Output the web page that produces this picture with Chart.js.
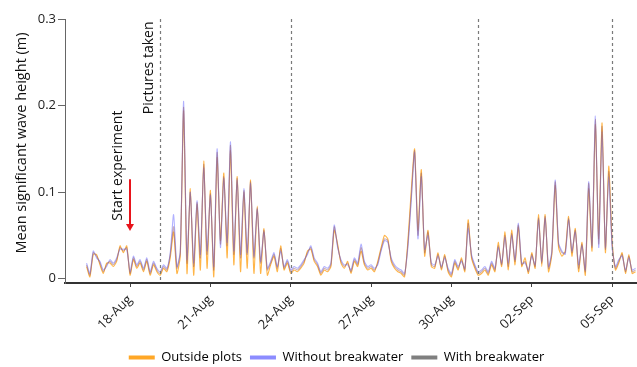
<!DOCTYPE html>
<html>
<head>
<meta charset="utf-8">
<title>Wave height</title>
<script src="https://cdn.jsdelivr.net/npm/chart.js"></script>
<style>
html, body { margin:0; padding:0; background:#fff; overflow:hidden; }
#wrap { width:637px; height:367px; position:relative; }
</style>
</head>
<body>
<div id="wrap"><canvas id="chart"></canvas></div>
<script>
// samples every 3 h, first one 16-Aug 09:00 (day numbers count Aug days, 01-Sep = 32)
var startDay = 16.375, stepDays = 0.125;

var outsidePlots = [
0.014,0.002,0.028,0.028,0.016,0.006,0.018,0.018,0.014,0.020,
0.038,0.030,0.038,0.004,0.022,0.012,0.018,0.008,0.020,0.004,
0.016,0.008,0.004,0.012,0.008,0.024,0.054,0.006,0.026,0.194,
0.006,0.104,0.004,0.086,0.010,0.136,0.012,0.102,0.002,0.140,
0.044,0.122,0.024,0.148,0.016,0.118,0.008,0.100,0.012,0.114,
0.006,0.084,0.006,0.058,0.004,0.016,0.026,0.008,0.038,0.010,
0.018,0.006,0.010,0.008,0.012,0.018,0.032,0.034,0.020,0.014,
0.004,0.010,0.008,0.014,0.056,0.040,0.018,0.012,0.020,0.006,
0.020,0.014,0.032,0.016,0.010,0.012,0.008,0.020,0.036,0.050,
0.046,0.020,0.012,0.008,0.006,0.002,0.044,0.102,0.150,0.056,
0.126,0.026,0.056,0.014,0.012,0.030,0.010,0.028,0.008,0.002,
0.018,0.010,0.024,0.008,0.068,0.024,0.012,0.004,0.006,0.010,
0.004,0.016,0.008,0.042,0.014,0.054,0.010,0.056,0.016,0.060,
0.014,0.024,0.006,0.030,0.012,0.074,0.014,0.074,0.008,0.028,
0.108,0.036,0.026,0.032,0.072,0.026,0.058,0.008,0.042,0.004,
0.104,0.032,0.178,0.046,0.180,0.030,0.130,0.044,0.010,0.018,
0.030,0.006,0.028,0.006,0.008];

var withoutBreakwater = [
0.018,0.006,0.032,0.024,0.020,0.010,0.014,0.022,0.018,0.024,
0.034,0.034,0.034,0.008,0.026,0.016,0.022,0.012,0.024,0.008,
0.020,0.012,0.008,0.016,0.012,0.030,0.074,0.014,0.032,0.205,
0.022,0.100,0.018,0.090,0.028,0.128,0.032,0.096,0.014,0.150,
0.036,0.116,0.042,0.158,0.032,0.114,0.028,0.104,0.030,0.110,
0.026,0.080,0.020,0.054,0.012,0.020,0.030,0.014,0.032,0.014,
0.022,0.010,0.014,0.012,0.016,0.022,0.028,0.038,0.024,0.018,
0.008,0.014,0.012,0.018,0.062,0.036,0.022,0.016,0.016,0.010,
0.024,0.018,0.040,0.020,0.014,0.016,0.012,0.016,0.032,0.044,
0.042,0.024,0.016,0.012,0.010,0.006,0.036,0.090,0.146,0.046,
0.118,0.034,0.050,0.018,0.016,0.026,0.014,0.024,0.012,0.006,
0.022,0.014,0.020,0.012,0.058,0.028,0.016,0.008,0.010,0.014,
0.008,0.020,0.012,0.036,0.018,0.048,0.018,0.050,0.022,0.064,
0.018,0.018,0.010,0.026,0.016,0.068,0.020,0.070,0.014,0.032,
0.114,0.042,0.032,0.028,0.068,0.032,0.054,0.016,0.038,0.010,
0.112,0.038,0.188,0.036,0.170,0.036,0.118,0.036,0.014,0.022,
0.026,0.010,0.024,0.010,0.012];

var withBreakwater = [
0.016,0.004,0.030,0.026,0.018,0.008,0.016,0.020,0.016,0.022,
0.036,0.032,0.036,0.006,0.024,0.014,0.020,0.010,0.022,0.006,
0.018,0.010,0.006,0.014,0.010,0.028,0.060,0.012,0.030,0.198,
0.018,0.100,0.014,0.088,0.024,0.132,0.028,0.098,0.010,0.146,
0.040,0.118,0.038,0.154,0.028,0.116,0.024,0.102,0.028,0.112,
0.024,0.082,0.018,0.056,0.010,0.018,0.028,0.012,0.035,0.012,
0.020,0.008,0.012,0.010,0.014,0.020,0.030,0.036,0.022,0.016,
0.006,0.012,0.010,0.016,0.060,0.038,0.020,0.014,0.018,0.008,
0.022,0.016,0.036,0.018,0.012,0.014,0.010,0.018,0.034,0.046,
0.044,0.022,0.014,0.010,0.008,0.004,0.040,0.094,0.148,0.050,
0.122,0.030,0.054,0.016,0.014,0.028,0.012,0.026,0.010,0.004,
0.020,0.012,0.022,0.010,0.064,0.026,0.014,0.006,0.008,0.012,
0.006,0.018,0.010,0.038,0.016,0.050,0.014,0.052,0.020,0.062,
0.016,0.020,0.008,0.028,0.014,0.070,0.018,0.072,0.012,0.030,
0.112,0.040,0.030,0.030,0.070,0.030,0.056,0.012,0.040,0.008,
0.110,0.036,0.184,0.040,0.176,0.034,0.124,0.040,0.012,0.020,
0.028,0.008,0.026,0.008,0.010];

var tickDays = [18, 21, 24, 27, 30, 33, 36];
var tickLabels = ['18-Aug', '21-Aug', '24-Aug', '27-Aug', '30-Aug', '02-Sep', '05-Sep'];
var yTicks = [0, 0.1, 0.2, 0.3];

// dashed "pictures taken" lines and the start arrow
var pictureDays = [19.12, 24, 31, 36];
var startExpDay = 18;
var arrowTop = 0.115, arrowTip = 0.055;

function toPoints(vals) {
    return vals.map(function(v, i) { return { x: startDay + i * stepDays, y: v }; });
}

var legendColors = ['#ffa726', '#8c8cff', '#7f7f7f'];
var FONT = "'Open Sans', sans-serif";
Chart.defaults.font.family = FONT;
Chart.defaults.color = '#222';

var overlay = {
    id: 'overlay',
    afterDatasetsDraw: function(chart) {
        var ctx = chart.ctx, xs = chart.scales.x, ys = chart.scales.y, a = chart.chartArea;
        ctx.save();
        ctx.strokeStyle = '#7a7a7a'; ctx.lineWidth = 1.2; ctx.setLineDash([3, 3]);
        pictureDays.forEach(function(d) {
            var x = Math.round(xs.getPixelForValue(d)) + 0.5;
            ctx.beginPath(); ctx.moveTo(x, a.top); ctx.lineTo(x, a.bottom); ctx.stroke();
        });
        ctx.setLineDash([]);

        var ax = Math.round(xs.getPixelForValue(startExpDay)), y1 = ys.getPixelForValue(arrowTop), y2 = ys.getPixelForValue(arrowTip);
        ctx.strokeStyle = '#e8141b'; ctx.fillStyle = '#e8141b'; ctx.lineWidth = 2;
        ctx.beginPath(); ctx.moveTo(ax, y1); ctx.lineTo(ax, y2 - 5); ctx.stroke();
        ctx.beginPath(); ctx.moveTo(ax - 4, y2 - 7); ctx.lineTo(ax + 4, y2 - 7); ctx.lineTo(ax, y2); ctx.closePath(); ctx.fill();

        ctx.fillStyle = '#111'; ctx.font = '14px ' + FONT; ctx.textAlign = 'left'; ctx.textBaseline = 'alphabetic';
        ctx.save();
        ctx.translate(xs.getPixelForValue(pictureDays[0]) - 7, ys.getPixelForValue(0.19));
        ctx.rotate(-Math.PI / 2); ctx.fillText('Pictures taken', 0, 0);
        ctx.restore();
        ctx.save();
        ctx.translate(xs.getPixelForValue(startExpDay) - 8, ys.getPixelForValue(0.067));
        ctx.rotate(-Math.PI / 2); ctx.fillText('Start experiment', 0, 0);
        ctx.restore();

        // y axis title, sits a bit above the middle of the axis like the original
        ctx.save();
        ctx.font = '14.5px ' + FONT; ctx.textAlign = 'center'; ctx.textBaseline = 'middle';
        ctx.translate(a.left - 43, (a.top + a.bottom) / 2 - 8);
        ctx.rotate(-Math.PI / 2); ctx.fillText('Mean significant wave height (m)', 0, 0);
        ctx.restore();
        ctx.restore();
    }
};

new Chart(document.getElementById('chart'), {
    type: 'line',
    data: {
        datasets: [
            { label: 'Outside plots', data: toPoints(outsidePlots), borderColor: 'rgba(255,168,40,0.85)', order: 2 },
            { label: 'Without breakwater', data: toPoints(withoutBreakwater), borderColor: 'rgba(125,125,255,0.6)', order: 1 },
            { label: 'With breakwater', data: toPoints(withBreakwater), borderColor: 'rgba(140,80,95,0.45)', order: 0 }
        ]
    },
    options: {
        responsive: true, maintainAspectRatio: false, animation: false,
        datasets: { line: { borderWidth: 1.1, pointRadius: 0, tension: 0.2, fill: false } },
        layout: { padding: { left: 36, top: 19, right: 0, bottom: -7 } },
        plugins: {
            tooltip: { enabled: false },
            legend: {
                position: 'bottom',
                labels: {
                    boxWidth: 26, boxHeight: 4, padding: 8, font: { size: 13 }, color: '#222',
                    generateLabels: function(chart) {
                        return chart.data.datasets.map(function(ds, i) {
                            return { text: ds.label, fillStyle: legendColors[i], strokeStyle: legendColors[i], lineWidth: 0, hidden: false, datasetIndex: i };
                        });
                    }
                }
            }
        },
        scales: {
            x: {
                type: 'linear', min: 15.57, max: 36.93,
                afterBuildTicks: function(s) { s.ticks = tickDays.map(function(v) { return { value: v }; }); },
                afterFit: function(s) { s.height = 60; },
                ticks: {
                    autoSkip: false, maxRotation: 45, minRotation: 45, padding: 5, font: { size: 13 }, color: '#222',
                    callback: function(v) { return tickLabels[tickDays.indexOf(v)]; }
                },
                grid: { drawOnChartArea: false, drawTicks: true, tickLength: 4, color: '#444' },
                border: { display: true, color: '#333', width: 2 }
            },
            y: {
                min: -0.005, max: 0.3,
                afterBuildTicks: function(s) { s.ticks = yTicks.map(function(v) { return { value: v }; }); },
                afterFit: function(s) { s.width = 29; },
                ticks: {
                    padding: 2, font: { size: 13 }, color: '#222',
                    callback: function(v) { return v === 0 ? '0' : v.toFixed(1); }
                },
                grid: { drawOnChartArea: false, drawTicks: true, tickLength: 7, color: '#666' },
                border: { display: true, color: '#666', width: 1 }
            }
        }
    },
    plugins: [overlay]
});
</script>
</body>
</html>
